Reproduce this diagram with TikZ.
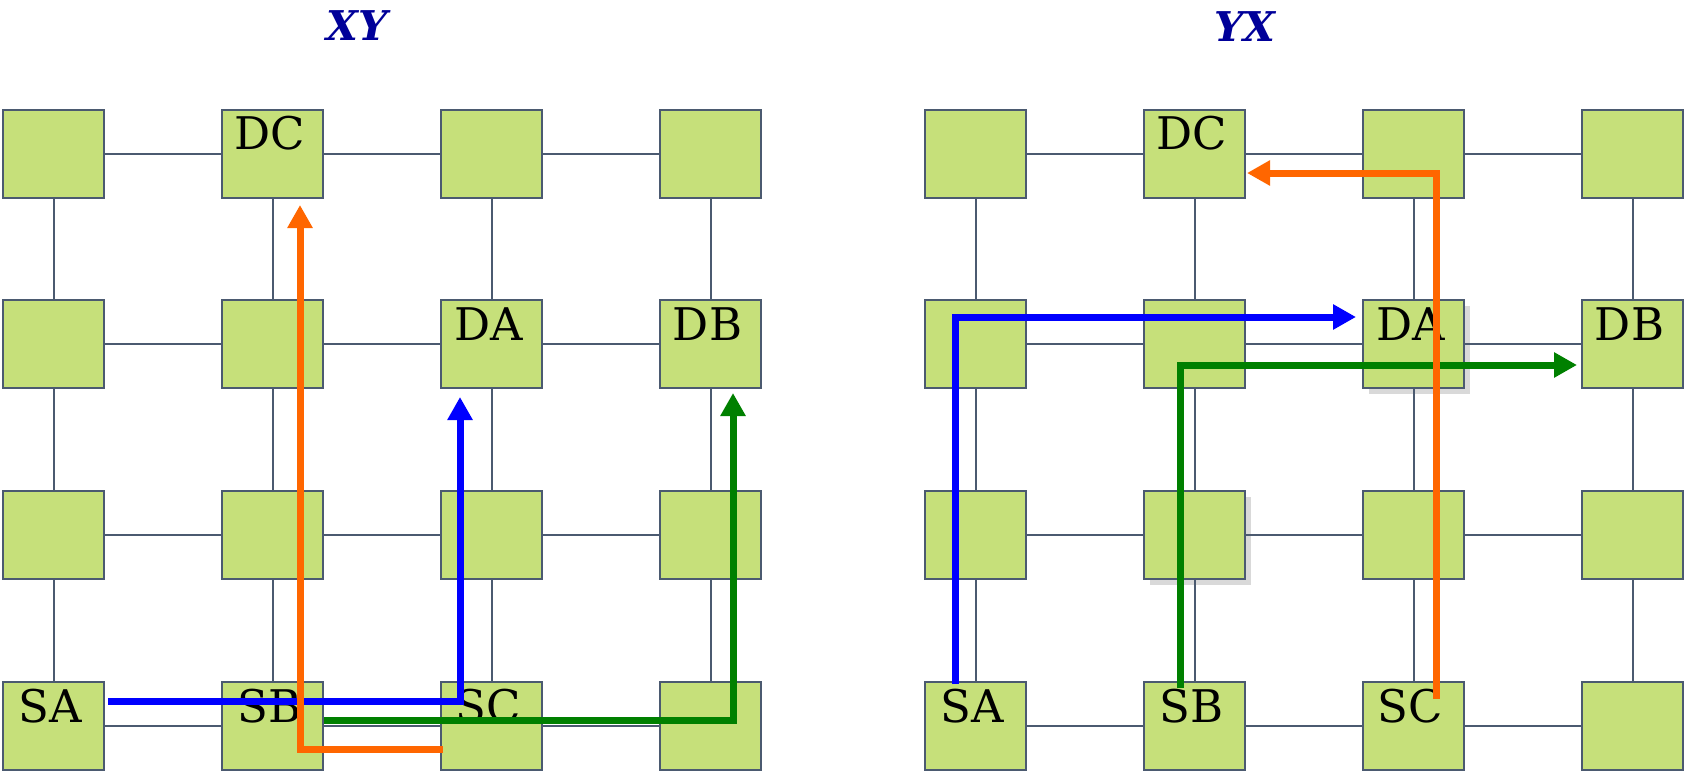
\documentclass[tikz,border=0pt]{standalone}
\usepackage{fontspec}
\newfontfamily\labelfont{DejaVu Serif}
\usetikzlibrary{arrows.meta,shadows}

\definecolor{boxfill}{HTML}{C6E07A}
\definecolor{linkgray}{HTML}{4B5A70}
\definecolor{titleblue}{HTML}{000099}
\definecolor{routeorange}{HTML}{FF6600}
\definecolor{routegreen}{HTML}{008000}
\definecolor{routeblue}{HTML}{0000FF}

\begin{document}
\begin{tikzpicture}[x=1pt, y=-1pt,
  router/.style={draw=linkgray, line width=2pt, fill=boxfill,
    minimum width=101pt, minimum height=88pt, inner sep=0pt},
  link/.style={draw=linkgray, line width=2pt},
  tag/.style={font=\labelfont\fontsize{45}{50}\selectfont, anchor=base, inner sep=0pt},
  title/.style={font=\labelfont\bfseries\itshape\fontsize{41}{46}\selectfont,
    text=titleblue, anchor=base, inner sep=0pt},
  route/.style={line width=7pt, -{Triangle[length=23pt,width=24pt]}},
  lift/.style={drop shadow={opacity=0.3, shadow xshift=6pt, shadow yshift=-6pt}}]

  \useasboundingbox (0,0) rectangle (1684,771);

  % 两个 4x4 网格：XY 在左，YX 在右
  \foreach \g/\x in {xy/53.5, yx/975.5} {
    \foreach \c in {1,...,4} {
      \foreach \r/\y in {1/153.5, 2/344, 3/535, 4/726} {
        \node[router] (\g-\c-\r) at ({\x+(\c-1)*219}, \y) {};
      }
    }
  }
  % 右图两个带阴影的节点
  \node[router, lift] (yx-3-2) at (yx-3-2) {};
  \node[router, lift] (yx-2-3) at (yx-2-3) {};

  % 网格连线
  \foreach \g in {xy,yx} {
    \foreach \r in {1,...,4} {
      \foreach \c [count=\n from 2] in {1,2,3} {
        \draw[link] (\g-\c-\r.east) -- (\g-\n-\r.west);
      }
    }
    \foreach \c in {1,...,4} {
      \foreach \r [count=\n from 2] in {1,2,3} {
        \draw[link] (\g-\c-\r.south) -- (\g-\c-\n.north);
      }
    }
  }

  % 源与目的标签
  \foreach \g in {xy,yx} {
    \foreach \t/\c/\r in {DC/2/1, DA/3/2, DB/4/2, SA/1/4, SB/2/4, SC/3/4} {
      \node[tag] (\g-\t) at ([xshift=-3pt, yshift=-41pt]\g-\c-\r.north) {\t};
    }
  }

  % 标题
  \node[title] (xy-title) at (357,40) {XY};
  \node[title] (yx-title) at (1245,41) {YX};

  % XY 路由：先 X 后 Y
  \coordinate (xyA0) at (108,701);
  \coordinate (xyA1) at (460,397);
  \coordinate (xyB0) at (324,720);
  \coordinate (xyB1) at (733,393);
  \coordinate (xyC0) at (443,749);
  \coordinate (xyC1) at (300,205);
  \draw[route, routeblue] (xyA0) -| (xyA1);
  \draw[route, routegreen] (xyB0) -| (xyB1);
  \draw[route, routeorange] (xyC0) -| (xyC1);

  % YX 路由：先 Y 后 X
  \coordinate (yxA0) at (955,684);
  \coordinate (yxA1) at (1356,317);
  \coordinate (yxB0) at (1180,688);
  \coordinate (yxB1) at (1577,365);
  \coordinate (yxC0) at (1436,699);
  \coordinate (yxC1) at (1247,173);
  \draw[route, routeblue] (yxA0) |- (yxA1);
  \draw[route, routegreen] (yxB0) |- (yxB1);
  \draw[route, routeorange] (yxC0) |- (yxC1);
\end{tikzpicture}
\end{document}
